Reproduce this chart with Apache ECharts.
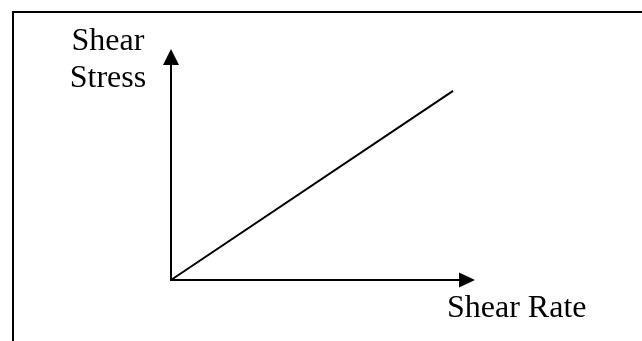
<!DOCTYPE html>
<html>
<head>
<meta charset="utf-8">
<script src="https://cdn.jsdelivr.net/npm/echarts@6/dist/echarts.min.js"></script>
<style>
html,body{margin:0;padding:0;background:#fff;}
#chart{width:642px;height:341px;}
</style>
</head>
<body>
<div id="chart"></div>
<script>
// Conceptual chart: shear stress grows linearly with shear rate
const shearRate = [0, 9.53];
const shearStress = [0, 8.48];
const xLabel = 'Shear Rate';
const yLabelLines = ['Shear', 'Stress'];

const chart = echarts.init(document.getElementById('chart'), null, {renderer: 'canvas'});
const font = '"Liberation Serif", "Times New Roman", serif';

chart.setOption({
  animation: false,
  backgroundColor: '#ffffff',
  grid: {left: 171, right: 175, top: 57, bottom: 61, containLabel: false},
  xAxis: {
    type: 'value', min: 0, max: 10,
    axisLine: {show: true, lineStyle: {color: '#000', width: 2}, symbol: ['none', 'triangle'], symbolSize: [15, 16]},
    axisTick: {show: false}, axisLabel: {show: false}, splitLine: {show: false}
  },
  yAxis: {
    type: 'value', min: 0, max: 10,
    axisLine: {show: true, lineStyle: {color: '#000', width: 2}, symbol: ['none', 'triangle'], symbolSize: [16, 16]},
    axisTick: {show: false}, axisLabel: {show: false}, splitLine: {show: false}
  },
  series: [{
    type: 'line',
    data: shearRate.map((x, i) => [x, shearStress[i]]),
    showSymbol: false,
    lineStyle: {color: '#000', width: 2},
    silent: true
  }],
  graphic: [
    {type: 'line', shape: {x1: 13, y1: 12, x2: 642, y2: 12}, style: {stroke: '#000', lineWidth: 2}},
    {type: 'line', shape: {x1: 13, y1: 11, x2: 13, y2: 341}, style: {stroke: '#000', lineWidth: 2}},
    {type: 'text', left: 447, top: 293, style: {text: xLabel, font: '32px ' + font, fill: '#000'}},
    {type: 'text', x: 108, y: 23, style: {text: yLabelLines.join('\n'), font: '32px ' + font, lineHeight: 37, fill: '#000', align: 'center', verticalAlign: 'top'}}
  ]
});
</script>
</body>
</html>
